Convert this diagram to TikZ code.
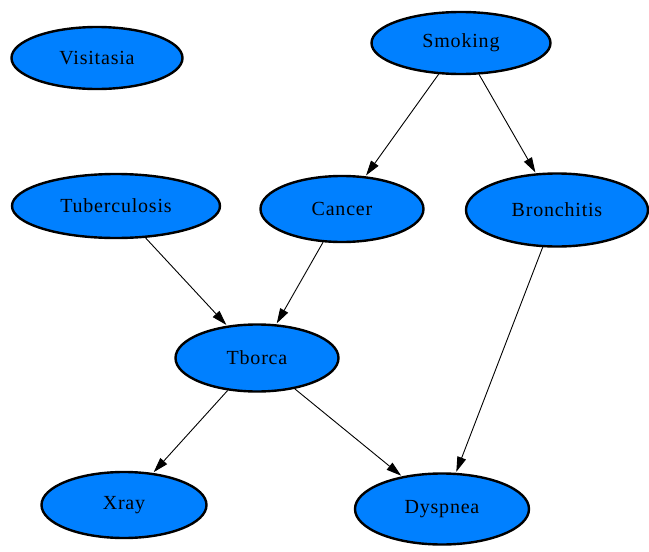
\documentclass[tikz,border=0pt]{standalone}
\usepackage{fontspec}
\setmainfont{Liberation Serif}
\newfontfamily\labelfont[LetterSpace=4]{Liberation Serif}
\usetikzlibrary{shapes.geometric,arrows.meta}
\definecolor{nodeblue}{RGB}{0,128,255}
\begin{document}
\begin{tikzpicture}[x=1pt,y=-1pt,
  var/.style={ellipse,draw=black,line width=2.4pt,fill=nodeblue,inner sep=0pt,
    font=\labelfont\fontsize{20}{22}\selectfont},
  link/.style={line width=0.9pt,-{Triangle[length=15pt,width=9pt]},shorten >=1pt}]
\useasboundingbox (0,0) rectangle (649,552);
\fill[white] (0,0) rectangle (649,552);
\node[var,minimum width=171pt,minimum height=62pt] (visit) at (97,58) {Visitasia};
\node[var,minimum width=179pt,minimum height=62pt] (smoke) at (461,43) {Smoking};
\node[var,minimum width=208pt,minimum height=64pt] (tub) at (116,206) {Tuberculosis};
\node[var,minimum width=163pt,minimum height=66pt] (cancer) at (342,209) {Cancer};
\node[var,minimum width=182pt,minimum height=73pt] (bron) at (557,210) {Bronchitis};
\node[var,minimum width=163pt,minimum height=67pt] (tborca) at (257,358) {Tborca};
\node[var,minimum width=165pt,minimum height=66pt] (xray) at (124,505) {Xray};
\node[var,minimum width=174pt,minimum height=71pt] (dysp) at (442,509) {Dyspnea};
\draw[link] (smoke) -- (cancer);
\draw[link] (smoke) -- (bron);
\draw[link] (tub) -- (tborca);
\draw[link] (cancer) -- (tborca);
\draw[link] (bron) -- (dysp);
\draw[link] (tborca) -- (xray);
\draw[link] (tborca) -- (dysp);
\end{tikzpicture}
\end{document}
